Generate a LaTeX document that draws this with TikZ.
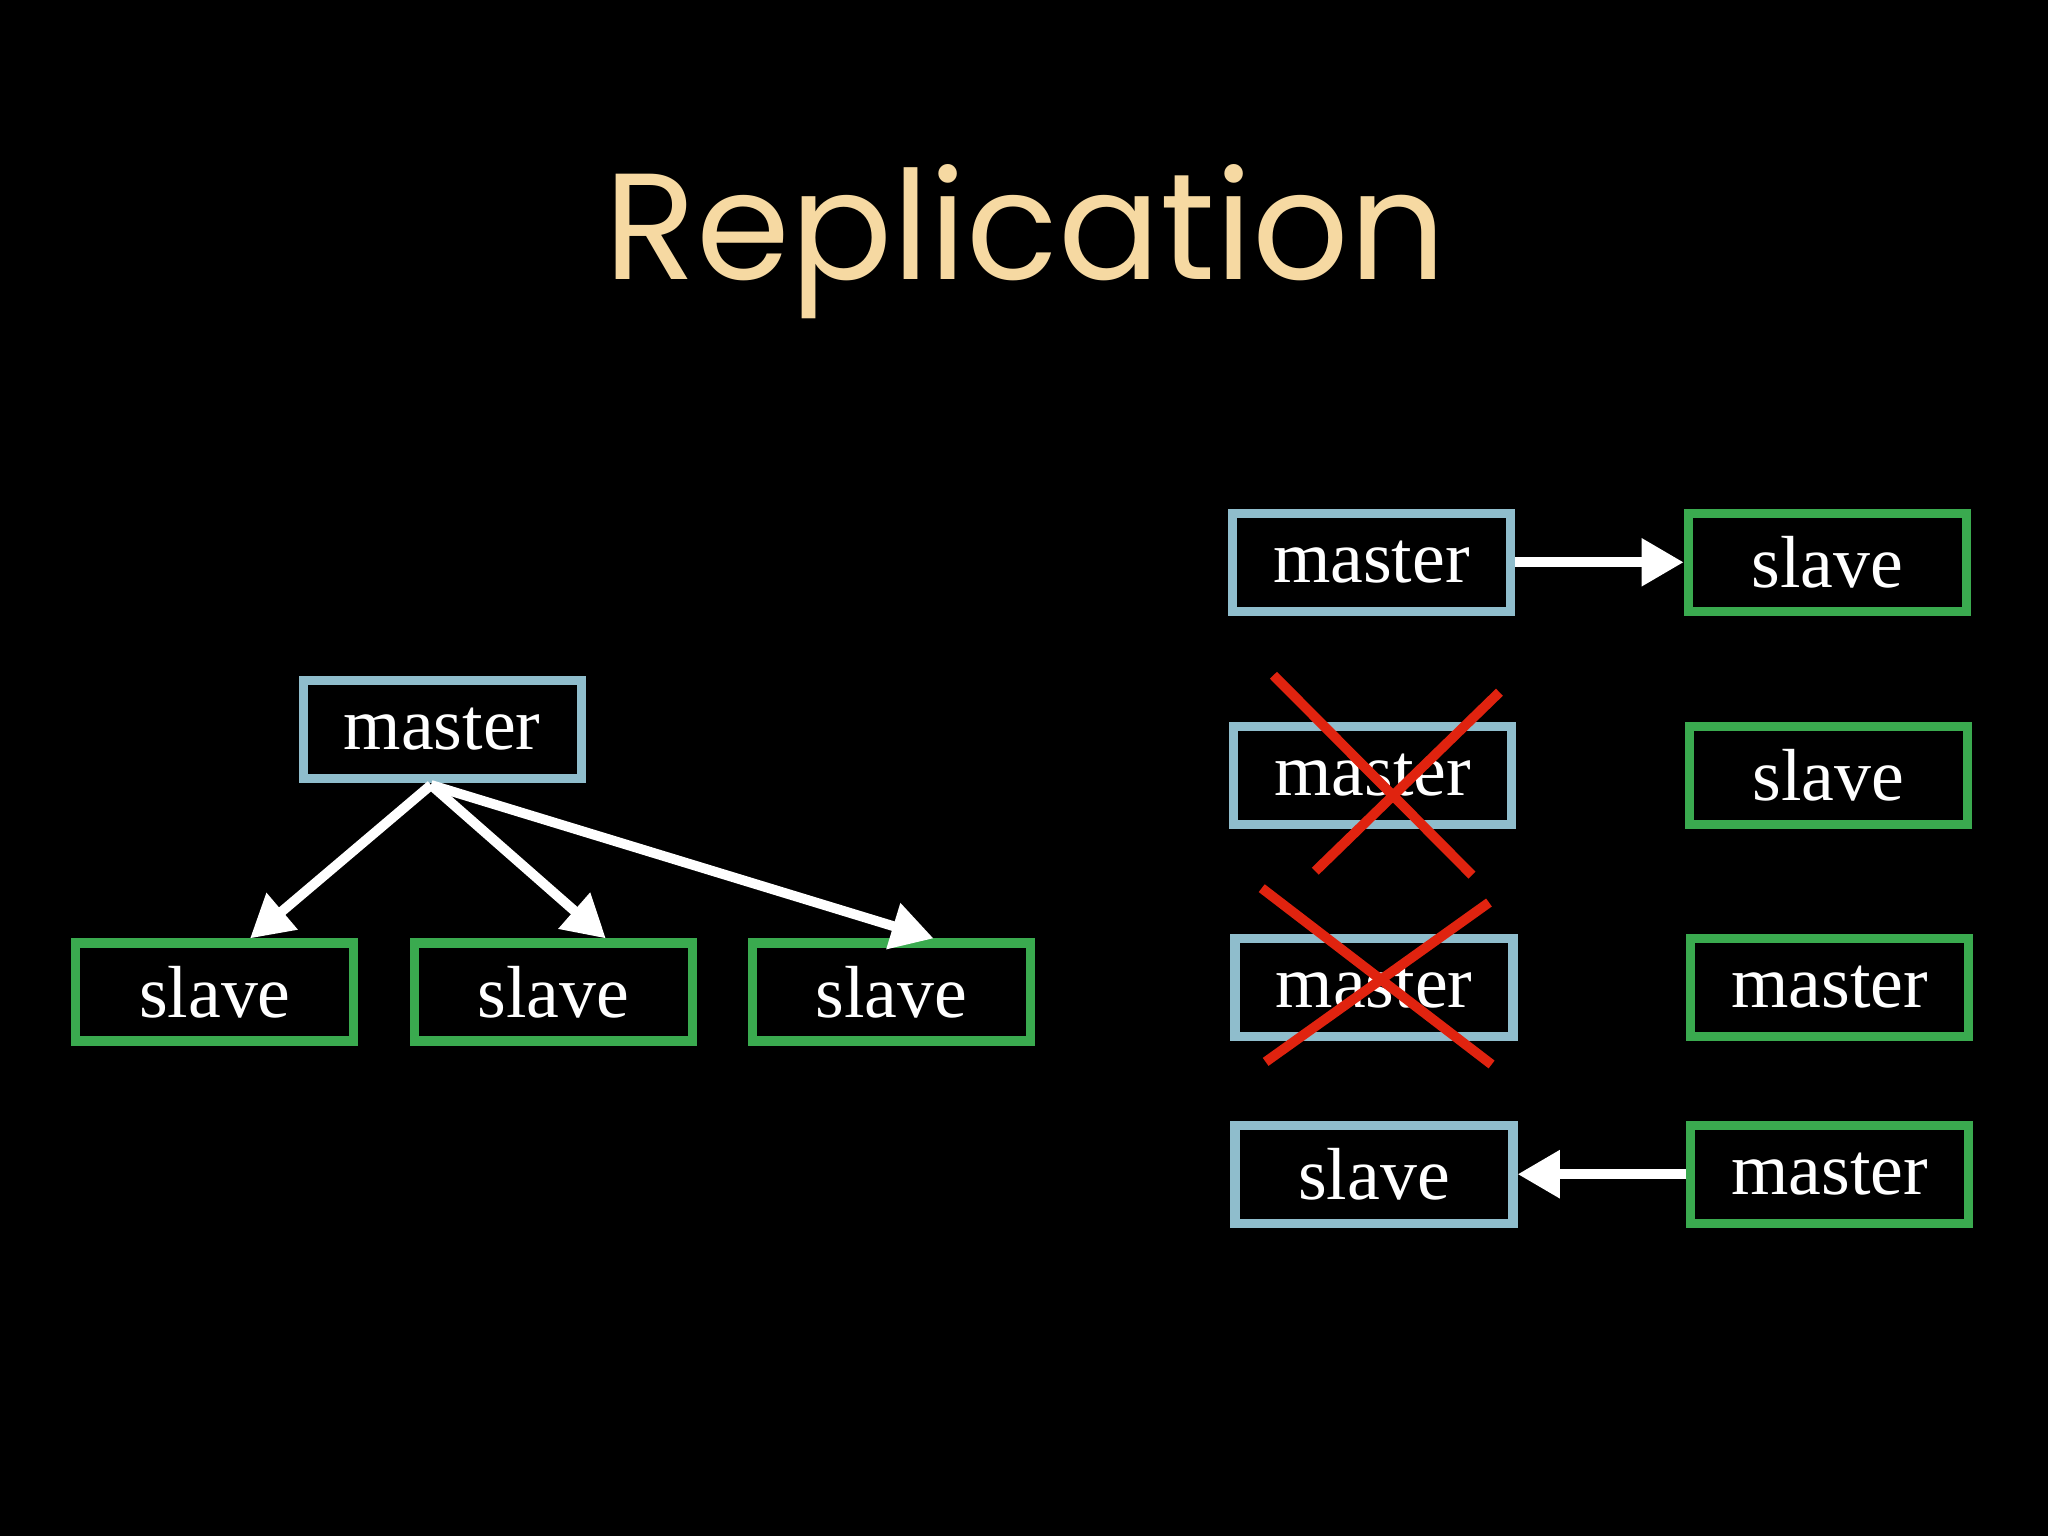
\documentclass[tikz,border=0pt]{standalone}
\usepackage{fontspec}
\setmainfont{Liberation Serif}
\newfontfamily\titlefont{Poppins}
\usetikzlibrary{arrows.meta}
\definecolor{mblue}{HTML}{8FBDCC}
\definecolor{sgreen}{HTML}{3AAA4F}
\definecolor{ttl}{HTML}{F6D9A2}
\definecolor{xred}{HTML}{E0230F}
\tikzset{
 box/.style={draw,line width=2.6pt,minimum width=2.78cm,minimum height=0.98cm,inner sep=0pt,text=white,font=\fontsize{21}{24}\selectfont},
 mbox/.style={box,draw=mblue},
 sbox/.style={box,draw=sgreen},
 arr/.style={white,line width=2.8pt,-{Triangle[length=12pt,width=13pt]}},
 xline/.style={xred,line width=2.8pt}
}
\begin{document}
\begin{tikzpicture}[x=0.01306cm,y=-0.01306cm]
\fill[black] (0,0) rectangle (1568,1176);
\useasboundingbox (0,0) rectangle (1568,1176);
\node[text=ttl,font=\titlefont\fontsize{43}{48}\selectfont] (title) at (785,185) {Replication};
\node[mbox] (m) at (338.5,558.5) {master};
\node[sbox] (s1) at (164.5,759.5) {slave};
\node[sbox] (s2) at (423.5,759.5) {slave};
\node[sbox] (s3) at (682.5,759.5) {slave};
\coordinate (mb) at (330,601);
\draw[arr] (mb) -- ([xshift=10]s1.north);
\draw[arr] (mb) -- ([xshift=15]s2.north);
\draw[arr] (mb) -- ([xshift=12]s3.north);
\node[mbox] (r1) at (1050,430.5) {master};
\node[mbox] (r2) at (1051,593.5) {master};
\node[mbox] (r3) at (1052,756) {master};
\node[mbox] (r4) at (1052,899) {slave};
\node[sbox] (q1) at (1399,430.5) {slave};
\node[sbox] (q2) at (1400,593.5) {slave};
\node[sbox] (q3) at (1401,756) {master};
\node[sbox] (q4) at (1401,899) {master};
\draw[arr] (r1.east) -- (q1.west);
\draw[arr] (q4.west) -- (r4.east);
\draw[xline] (975,517) -- (1127,670);
\draw[xline] (1148,530) -- (1007,667);
\draw[xline] (966,680) -- (1142,815);
\draw[xline] (1140,691) -- (969,813);
\end{tikzpicture}
\end{document}
